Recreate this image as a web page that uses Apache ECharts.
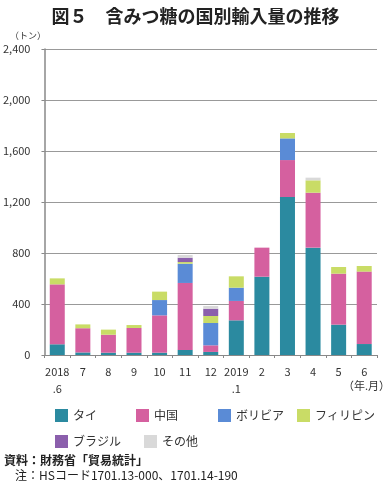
<!DOCTYPE html>
<html><head><meta charset="utf-8">
<script src="https://cdn.jsdelivr.net/npm/echarts@6/dist/echarts.min.js"></script>
<style>html,body{margin:0;padding:0;background:#fff}#c{width:391px;height:481px}</style>
</head><body><div id="c"></div>
<script>
var categories = ['2018\n.6','7','8','9','10','11','12','2019\n.1','2','3','4','5','6'];
var seriesNames = ['タイ','中国','ボリビア','フィリピン','ブラジル','その他'];
var thai       = [84, 20, 18, 18, 18, 40, 24, 272, 614, 1239, 842, 238, 86];
var china      = [470, 190, 141, 194, 293, 525, 52, 152, 228, 290, 431, 400, 568];
var bolivia    = [0, 0, 0, 0, 120, 151, 175, 104, 0, 170, 0, 0, 0];
var philippines= [47, 30, 40, 23, 66, 13, 55, 89, 0, 42, 97, 52, 44];
var brazil     = [0, 0, 0, 0, 0, 34, 57, 0, 0, 0, 0, 0, 0];
var others     = [0, 0, 0, 0, 0, 21, 21, 0, 0, 0, 21, 0, 0];
var yTicks = [0, 400, 800, 1200, 1600, 2000, 2400];

var colors = ['#2b8aa0','#d5609f','#5a8bd6','#c9dc66','#8b5fac','#d9d9d9'];
var dataSets = [thai, china, bolivia, philippines, brazil, others];
var font = '"Noto Sans CJK JP", sans-serif';

var legendPos = [[50,404],[131,404],[213,404],[292,404],[50,430],[139,430]];
var legends = seriesNames.map(function(n,i){
  return {data:[n], left:legendPos[i][0], top:legendPos[i][1], icon:'rect', itemWidth:13, itemHeight:13, itemGap:5,
    textStyle:{fontFamily:font, fontSize:12, color:'#333'}, selectedMode:false};
});

var chart = echarts.init(document.getElementById('c'), null, {renderer:'canvas'});
chart.setOption({
  animation:false,
  color: colors,
  title:{text:'図５　含みつ糖の国別輸入量の推移', left:'center', top:2,
    textStyle:{fontFamily:font, fontSize:18, fontWeight:'bold', color:'#222'}},
  legend: legends,
  grid:{left:40.5, right:14, top:49, bottom:126, containLabel:false},
  xAxis:{type:'category', data:categories,
    axisLine:{lineStyle:{color:'#888', width:1}},
    axisTick:{show:true, length:3, lineStyle:{color:'#888'}},
    axisLabel:{fontFamily:font, fontSize:11, color:'#333', margin:8, lineHeight:17, interval:0}},
  yAxis:{type:'value', min:0, max:2400, interval:400,
    axisLine:{show:true, lineStyle:{color:'#888', width:1.5}},
    axisTick:{show:true, length:3, lineStyle:{color:'#888'}},
    splitLine:{lineStyle:{color:'#999', width:1}},
    axisLabel:{fontFamily:font, fontSize:11, color:'#333', margin:14,
      formatter:function(v){return v.toString().replace(/\B(?=(\d{3})+(?!\d))/g, ',');}}},
  graphic:[
    {type:'text', left:10, top:31, style:{text:'（トン）', fontFamily:font, fontSize:9, fill:'#333'}},
    {type:'text', left:343, top:380, style:{text:'（年.月）', fontFamily:font, fontSize:11, fill:'#333'}},
    {type:'text', left:4, top:454, style:{text:'資料：財務省「貿易統計」', fontFamily:font, fontSize:12, fontWeight:'bold', fill:'#222'}},
    {type:'text', left:15, top:469, style:{text:'注：HSコード1701.13-000、1701.14-190', fontFamily:font, fontSize:12, fill:'#222'}}
  ],
  series: seriesNames.map(function(n,i){
    return {name:n, type:'bar', stack:'total', barWidth:15, data:dataSets[i],
      itemStyle:{color:colors[i]}};
  })
});
</script></body></html>
